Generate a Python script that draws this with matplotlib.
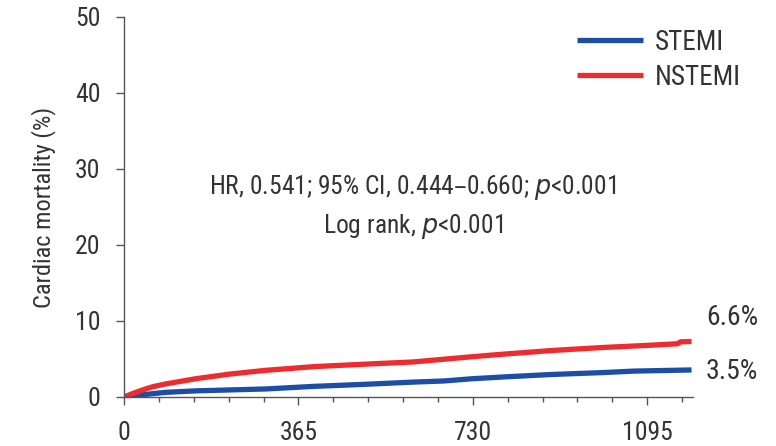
import matplotlib
matplotlib.use('Agg')
import matplotlib.pyplot as plt
from matplotlib import font_manager
from matplotlib.ticker import MultipleLocator

# condensed sans if one is installed, otherwise Roboto
names = {f.name for f in font_manager.fontManager.ttflist}
cands = ['Liberation Sans Narrow', 'Roboto Condensed', 'Open Sans Condensed',
         'Noto Sans Condensed', 'DejaVu Sans Condensed', 'Roboto']
chosen = [c for c in cands if c in names]
plt.rcParams['font.family'] = chosen[:1] + ['DejaVu Sans']
if 'Roboto Condensed' not in chosen[:1] and 'Liberation Sans Narrow' not in chosen[:1]:
    plt.rcParams['font.stretch'] = 'condensed'

# Kaplan-Meier style cumulative cardiac mortality (%)
stemi_days = [0, 40, 86, 150, 296, 400, 500, 604, 669, 730, 800, 893, 1000, 1067, 1188]
stemi_pct = [0, 0.3, 0.6, 0.8, 1.05, 1.4, 1.65, 1.95, 2.1, 2.4, 2.65, 2.95, 3.2, 3.4, 3.55]
nstemi_days = [0, 20, 40, 60, 86, 150, 220, 296, 400, 500, 604, 730, 788, 893, 1000, 1100, 1159, 1165, 1188]
nstemi_pct = [0, 0.5, 0.95, 1.35, 1.7, 2.4, 3.0, 3.5, 4.0, 4.3, 4.6, 5.3, 5.6, 6.1, 6.5, 6.8, 7.0, 7.25, 7.3]
end_labels = ['6.6%', '3.5%']

blue = '#1d4ea6'
red = '#ee2b2e'
txt = '#333333'

fig = plt.figure(figsize=(7.76, 4.46), dpi=100)
ax = fig.add_axes([0.160, 0.110, 0.733, 0.852])

ax.plot(stemi_days, stemi_pct, color=blue, lw=3.8, label='STEMI', solid_capstyle='butt')
ax.plot(nstemi_days, nstemi_pct, color=red, lw=3.8, label='NSTEMI', solid_capstyle='butt')

ax.set_xlim(0, 1191)
ax.set_ylim(0, 50)
ax.set_xticks([0, 365, 730, 1095])
ax.xaxis.set_minor_locator(MultipleLocator(73))
ax.set_yticks([0, 10, 20, 30, 40, 50])

for s in ['top', 'right']:
    ax.spines[s].set_visible(False)
for s in ['left', 'bottom']:
    ax.spines[s].set_color('#555555')
    ax.spines[s].set_linewidth(1.0)
ax.tick_params(which='major', length=6, width=1, color='#555555', labelsize=18.5, labelcolor=txt)
ax.tick_params(axis='x', which='major', pad=11)
ax.tick_params(axis='y', which='major', pad=11)
ax.tick_params(which='minor', length=3.5, width=1, color='#555555')

ax.set_ylabel('Cardiac mortality (%)', fontsize=17.6, color=txt, labelpad=14)

ax.text(604, 27.5, 'HR, 0.541; 95% CI, 0.444\u20130.660; $\\mathit{p}$<0.001',
        ha='center', va='center', fontsize=18.4, color=txt)
ax.text(604, 22.4, 'Log rank, $\\mathit{p}$<0.001', ha='center', va='center', fontsize=18.4, color=txt)

ax.text(1218, 10.4, end_labels[0], ha='left', va='center', fontsize=20, color=txt, clip_on=False)
ax.text(1218, 3.3, end_labels[1], ha='left', va='center', fontsize=20, color=txt, clip_on=False)

leg = ax.legend(loc='upper left', bbox_to_anchor=(0.796, 0.969), frameon=False, fontsize=19.5,
                borderpad=0, borderaxespad=0, handlelength=2.44, handletextpad=0.44,
                labelspacing=0.3, labelcolor=txt)

fig.savefig('out.png', dpi=100)
